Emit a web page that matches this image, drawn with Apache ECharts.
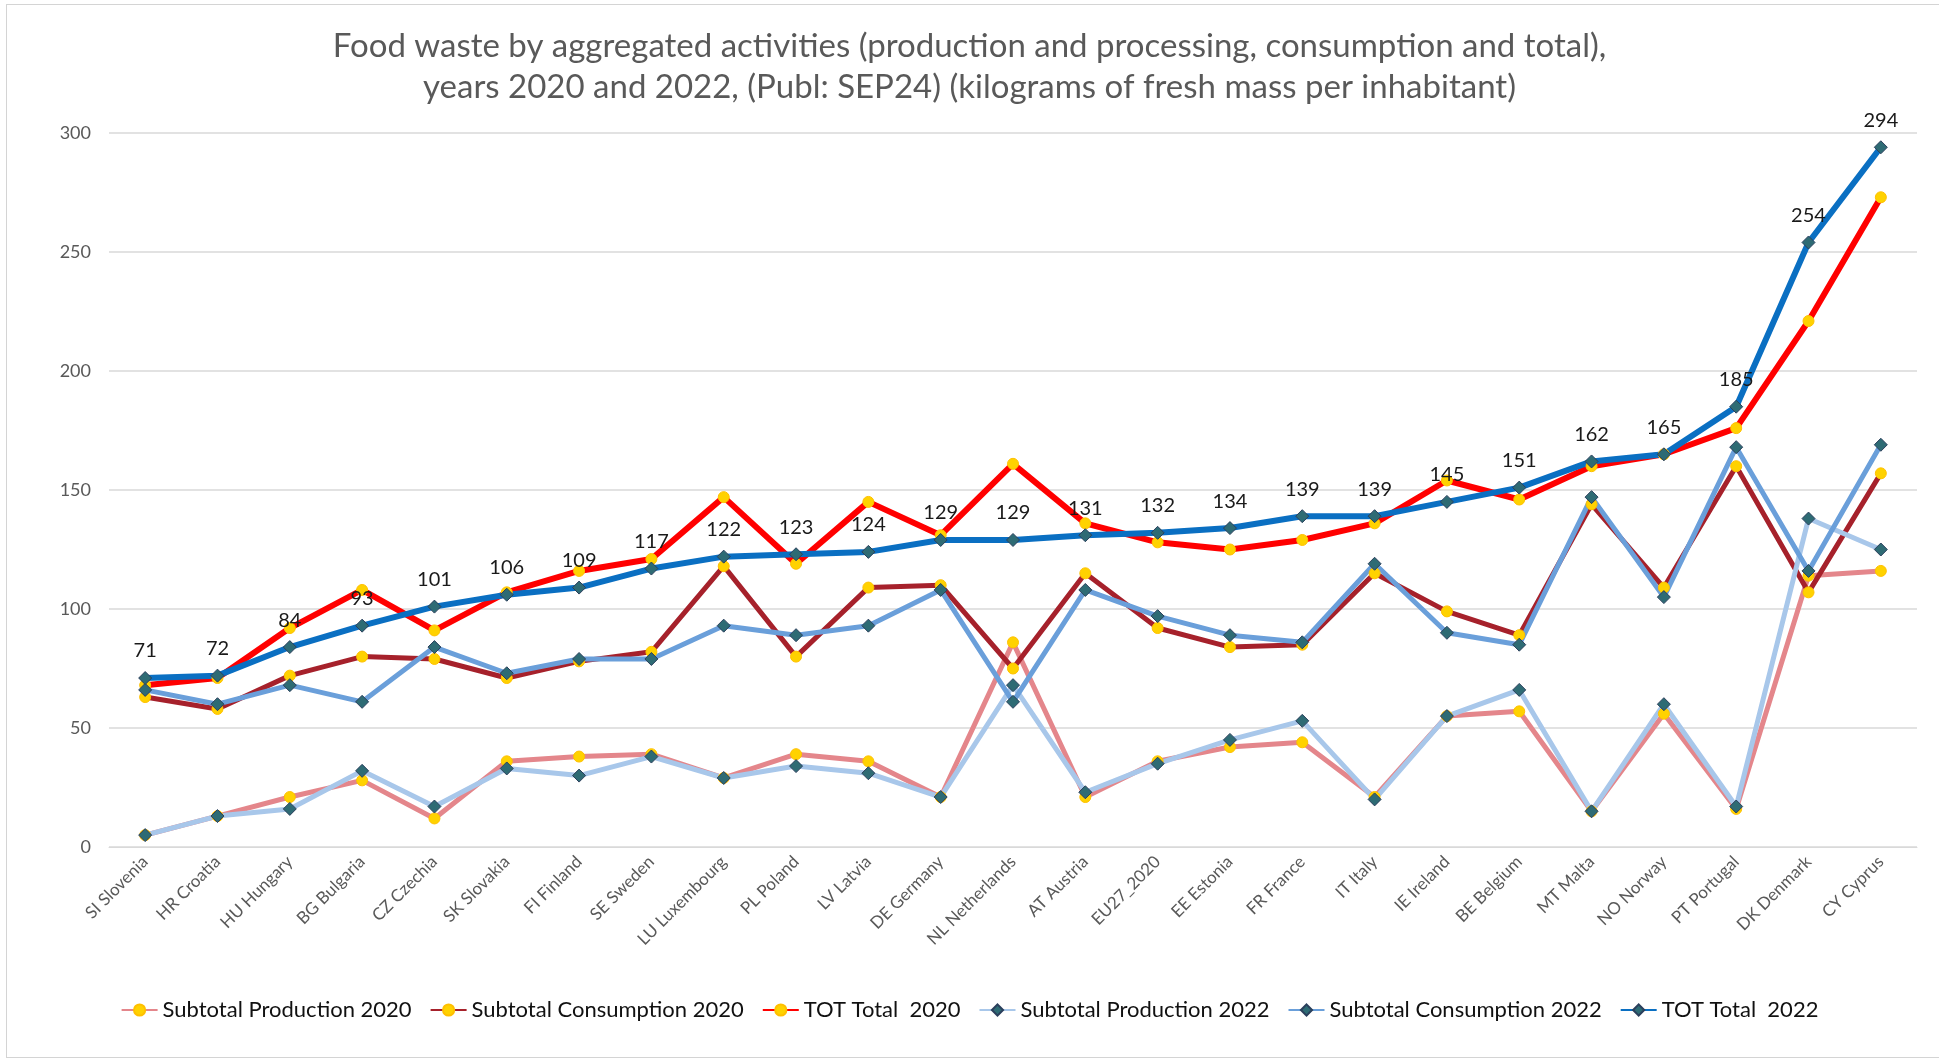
<!DOCTYPE html>
<html>
<head>
<meta charset="utf-8">
<script src="https://cdn.jsdelivr.net/npm/echarts@6/dist/echarts.min.js"></script>
<style>
html, body { margin: 0; padding: 0; background: #fff; }
#frame { position: absolute; left: 6px; top: 4px; width: 1940px; height: 1052px; border: 1px solid #d4d4d4; }
#foodchart { position: absolute; left: 0; top: 0; width: 1939px; height: 1062px; }
</style>
</head>
<body>
<div id="frame"></div>
<div id="foodchart"></div>
<script>
var countries = ['SI Slovenia', 'HR Croatia', 'HU Hungary', 'BG Bulgaria', 'CZ Czechia', 'SK Slovakia', 'FI Finland',
    'SE Sweden', 'LU Luxembourg', 'PL Poland', 'LV Latvia', 'DE Germany', 'NL Netherlands', 'AT Austria', 'EU27_2020',
    'EE Estonia', 'FR France', 'IT Italy', 'IE Ireland', 'BE Belgium', 'MT Malta', 'NO Norway', 'PT Portugal',
    'DK Denmark', 'CY Cyprus'];

var prod2020 = [5, 13, 21, 28, 12, 36, 38, 39, 29, 39, 36, 21, 86, 21, 36, 42, 44, 21, 55, 57, 15, 56, 16, 114, 116];
var cons2020 = [63, 58, 72, 80, 79, 71, 78, 82, 118, 80, 109, 110, 75, 115, 92, 84, 85, 115, 99, 89, 144, 109, 160, 107, 157];
var tot2020 = [68, 71, 92, 108, 91, 107, 116, 121, 147, 119, 145, 131, 161, 136, 128, 125, 129, 136, 154, 146, 160, 165, 176, 221, 273];
var prod2022 = [5, 13, 16, 32, 17, 33, 30, 38, 29, 34, 31, 21, 68, 23, 35, 45, 53, 20, 55, 66, 15, 60, 17, 138, 125];
var cons2022 = [66, 60, 68, 61, 84, 73, 79, 79, 93, 89, 93, 108, 61, 108, 97, 89, 86, 119, 90, 85, 147, 105, 168, 116, 169];
var tot2022 = [71, 72, 84, 93, 101, 106, 109, 117, 122, 123, 124, 129, 129, 131, 132, 134, 139, 139, 145, 151, 162, 165, 185, 254, 294];

var fontName = 'Lato';

function serie2020(name, data, color, width) {
    return {
        name: name,
        type: 'line',
        data: data,
        symbol: 'circle',
        symbolSize: 11,
        lineStyle: { color: color, width: width },
        itemStyle: { color: '#ffd200', borderColor: '#ffc000', borderWidth: 1 }
    };
}

function serie2022(name, data, color, width) {
    return {
        name: name,
        type: 'line',
        data: data,
        symbol: 'diamond',
        symbolSize: 13,
        lineStyle: { color: color, width: width },
        itemStyle: { color: '#2e6b74', borderColor: '#2b3f5c', borderWidth: 1 }
    };
}

var foodchart = echarts.init(document.getElementById('foodchart'));

var totSerie = serie2022('TOT Total  2022', tot2022, '#0a6fc2', 6);
totSerie.label = {
    show: true,
    position: 'top',
    distance: 10,
    color: '#1a1a1a',
    fontFamily: fontName,
    fontSize: 20
};

var foodoption = {
    backgroundColor: 'transparent',
    textStyle: { fontFamily: fontName },
    title: {
        text: 'Food waste by aggregated activities (production and processing, consumption and total),\nyears 2020 and 2022, (Publ: SEP24) (kilograms of fresh mass per inhabitant)',
        left: 'center',
        top: 21,
        textStyle: {
            color: '#595959',
            fontFamily: fontName,
            fontWeight: 'normal',
            fontSize: 33,
            lineHeight: 41
        }
    },
    legend: {
        bottom: 36,
        left: 'center',
        itemWidth: 36,
        itemHeight: 14,
        itemGap: 18,
        textStyle: { color: '#111', fontSize: 22, fontFamily: fontName },
        data: ['Subtotal Production 2020', 'Subtotal Consumption 2020', 'TOT Total  2020',
            'Subtotal Production 2022', 'Subtotal Consumption 2022', 'TOT Total  2022']
    },
    grid: {
        left: 109,
        right: 22,
        top: 133,
        bottom: 215
    },
    xAxis: [
        {
            type: 'category',
            boundaryGap: true,
            data: countries,
            axisLine: { lineStyle: { color: '#d9d9d9' } },
            axisTick: { show: false },
            axisLabel: {
                rotate: 45,
                interval: 0,
                color: '#595959',
                fontSize: 17,
                fontFamily: fontName,
                margin: 12
            }
        }
    ],
    yAxis: [
        {
            type: 'value',
            min: 0,
            max: 300,
            interval: 50,
            axisLine: { show: false },
            axisTick: { show: false },
            splitLine: { lineStyle: { color: '#d9d9d9', width: 1.5 } },
            axisLabel: { color: '#595959', fontSize: 18, fontFamily: fontName, margin: 18 }
        }
    ],
    series: [
        serie2020('Subtotal Production 2020', prod2020, '#e4868b', 5),
        serie2020('Subtotal Consumption 2020', cons2020, '#a6212b', 5),
        serie2020('TOT Total  2020', tot2020, '#ff0000', 6),
        serie2022('Subtotal Production 2022', prod2022, '#a8c7ea', 5),
        serie2022('Subtotal Consumption 2022', cons2022, '#6a9fda', 5),
        totSerie
    ]
};
foodchart.setOption(foodoption);
</script>
</body>
</html>
